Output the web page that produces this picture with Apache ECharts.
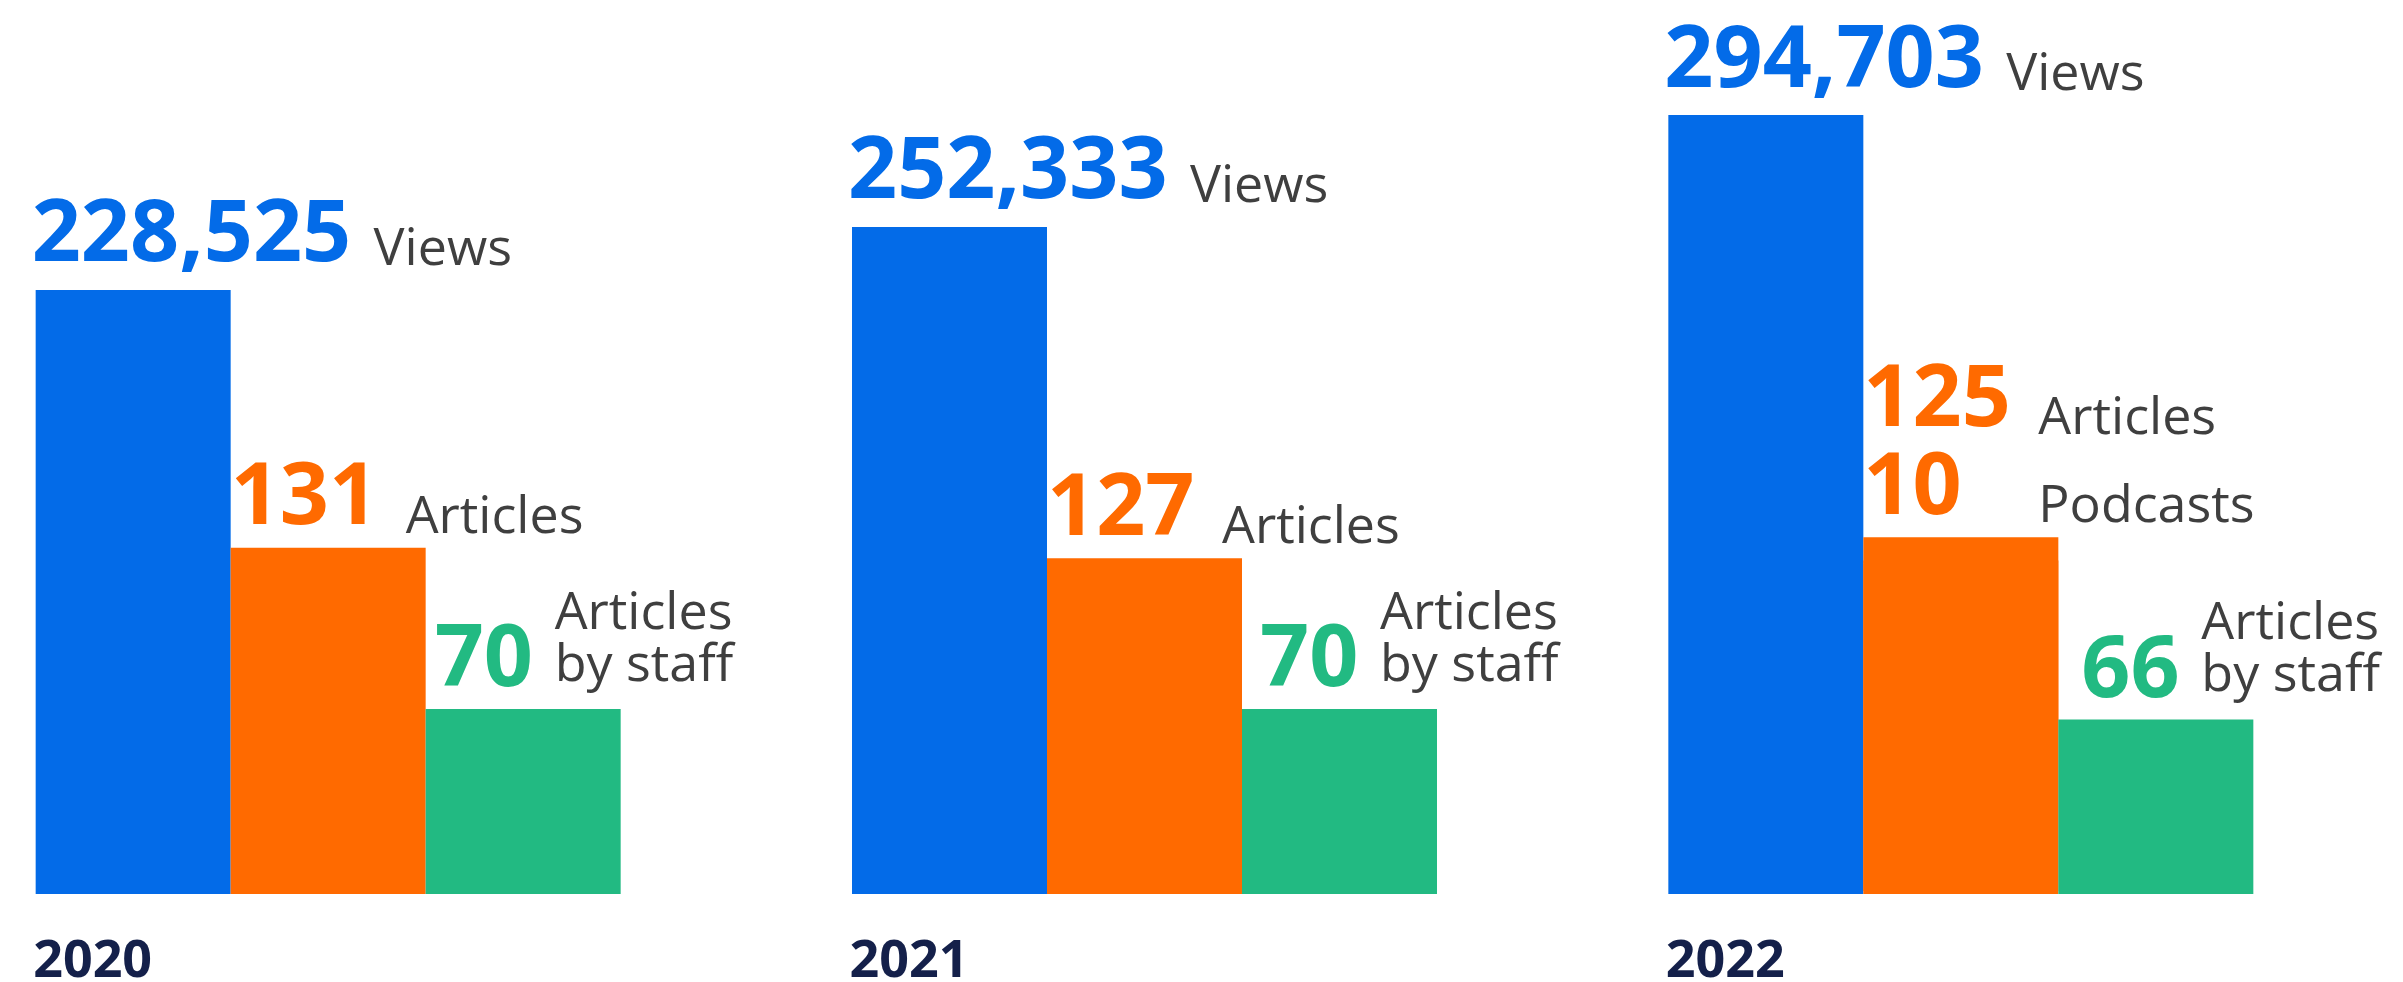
<!DOCTYPE html>
<html>
<head>
<meta charset="utf-8">
<script src="https://cdn.jsdelivr.net/npm/echarts@6/dist/echarts.min.js"></script>
<style>
  html, body { margin: 0; padding: 0; background: #fff; }
  #chart { width: 2403px; height: 982px; }
</style>
</head>
<body>
<div id="chart"></div>
<script>
// data
const years = ['2020', '2021', '2022'];
const views = [228525, 252333, 294703];
const articles = [131, 127, 125];
const podcasts = [0, 0, 10];
const staffArticles = [70, 70, 66];

const BLUE = '#036be8';
const ORANGE = '#ff6a00';
const GREEN = '#22ba82';
const GREY = '#3f3f3f';
const NAVY = '#14204a';
const FONT = '"Open Sans", "Noto Sans", sans-serif';

// small horizontal nudges of the green labels
const staffDx = [9, 18, 23];

const chart = echarts.init(document.getElementById('chart'));

function fmt(n) {
  return n.toLocaleString('en-US');
}

chart.setOption({
  animation: false,
  grid: { left: -80, right: 34, top: 101, bottom: 88, outerBoundsMode: 'none' },
  xAxis: {
    type: 'category',
    data: years,
    axisLine: { show: false },
    axisTick: { show: false },
    axisLabel: {
      interval: 0,
      margin: 42,
      verticalAlign: 'top',
      formatter: v => '{y|' + v + '}',
      rich: {
        y: { width: 590, align: 'left', fontSize: 52, fontWeight: 'bold', color: NAVY, lineHeight: 52, fontFamily: FONT }
      }
    }
  },
  yAxis: [
    { type: 'value', min: 0, max: 300000, show: false },
    { type: 'value', min: 0, max: 300, show: false }
  ],
  series: [
    {
      name: 'Views',
      type: 'bar',
      yAxisIndex: 0,
      barWidth: 195,
      barGap: '0%',
      data: views,
      itemStyle: { color: BLUE },
      label: {
        show: true,
        position: [-4, -23],
        align: 'left',
        verticalAlign: 'bottom',
        formatter: p => '{n|' + fmt(p.value) + ' }{t|Views}',
        rich: {
          n: { fontSize: 86, fontWeight: 'bold', color: BLUE, lineHeight: 60, fontFamily: FONT },
          t: { fontSize: 52, color: GREY, lineHeight: 32, height: 34, verticalAlign: 'bottom', fontFamily: FONT }
        }
      }
    },
    {
      name: 'Articles',
      type: 'bar',
      yAxisIndex: 1,
      stack: 'content',
      barWidth: 195,
      barGap: '0%',
      // where a podcast block sits on top, a small same-colour shadow hides the seam
      data: articles.map((v, i) => podcasts[i]
        ? { value: v, itemStyle: { shadowColor: ORANGE, shadowBlur: 0, shadowOffsetY: -3 } }
        : v),
      itemStyle: { color: ORANGE }
    },
    {
      name: 'Podcasts',
      type: 'bar',
      yAxisIndex: 1,
      stack: 'content',
      barWidth: 195,
      barGap: '0%',
      data: podcasts,
      itemStyle: { color: ORANGE },
      label: {
        show: true,
        position: [0, -4],
        align: 'left',
        verticalAlign: 'bottom',
        formatter: p => {
          const i = p.dataIndex;
          let s = '{n|' + articles[i] + '}{t|Articles}';
          if (podcasts[i]) s += '\n{n|' + podcasts[i] + '}{t|Podcasts}';
          return s;
        },
        rich: {
          n: { fontSize: 86, fontWeight: 'bold', color: ORANGE, lineHeight: 88, width: 175, fontFamily: FONT },
          t: { fontSize: 52, color: GREY, lineHeight: 64, verticalAlign: 'bottom', fontFamily: FONT }
        }
      }
    },
    {
      name: 'Articles by staff',
      type: 'bar',
      yAxisIndex: 1,
      barWidth: 195,
      barGap: '0%',
      data: staffArticles.map((v, i) => ({
        value: v,
        label: { position: [staffDx[i], -17] }
      })),
      itemStyle: { color: GREEN },
      label: {
        show: true,
        align: 'left',
        verticalAlign: 'bottom',
        formatter: p => '{sp| }{t|Articles}\n{g|' + p.value + '}{t|by staff}',
        rich: {
          sp: { width: 120, lineHeight: 52 },
          g: { fontSize: 86, fontWeight: 'bold', color: GREEN, lineHeight: 31, height: 44, verticalAlign: 'top', width: 120, fontFamily: FONT },
          t: { fontSize: 52, color: GREY, lineHeight: 52, fontFamily: FONT }
        }
      }
    }
  ]
});
</script>
</body>
</html>
